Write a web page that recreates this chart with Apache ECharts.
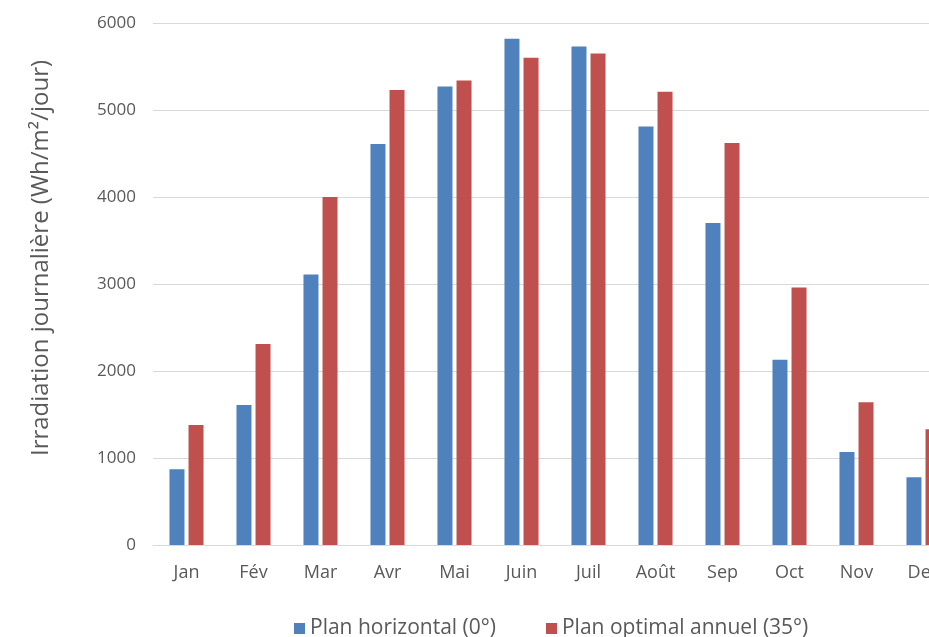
<!DOCTYPE html>
<html>
<head>
<meta charset="utf-8">
<script src="https://cdn.jsdelivr.net/npm/echarts@6/dist/echarts.min.js"></script>
<style>
  html, body { margin: 0; padding: 0; background: #fff; overflow: hidden; }
  #chart { width: 980px; height: 637px; }
</style>
</head>
<body>
<div id="chart"></div>
<script>
// Monthly daily irradiation (Wh/m²/day) for two panel orientations
const months = ['Jan', 'Fév', 'Mar', 'Avr', 'Mai', 'Juin', 'Juil', 'Août', 'Sep', 'Oct', 'Nov', 'Dec'];
const horizontal = [870, 1610, 3110, 4610, 5270, 5820, 5730, 4810, 3700, 2130, 1070, 780];
const optimal = [1380, 2310, 4000, 5230, 5340, 5600, 5650, 5210, 4620, 2960, 1640, 1330];
const seriesNames = ['Plan horizontal (0°)', 'Plan optimal annuel (35°)'];
const yTicks = { min: 0, max: 6000, interval: 1000 };

const font = '"Open Sans", "Noto Sans", sans-serif';
const grey = '#595959';
const chart = echarts.init(document.getElementById('chart'), null, { renderer: 'canvas' });

chart.setOption({
  animation: false,
  textStyle: { fontFamily: font },
  grid: { left: 153, right: 23, top: 23, bottom: 92 },
  legend: {
    left: 289, top: 613,
    itemWidth: 11, itemHeight: 11, itemGap: 50,
    icon: 'rect',
    textStyle: { fontSize: 21, color: grey, fontFamily: font },
    data: seriesNames
  },
  xAxis: {
    type: 'category',
    data: months,
    axisLine: { lineStyle: { color: '#d9d9d9', width: 1 } },
    axisTick: { show: false },
    axisLabel: { color: grey, fontSize: 18, margin: 19, fontFamily: font }
  },
  yAxis: {
    type: 'value',
    min: yTicks.min, max: yTicks.max, interval: yTicks.interval,
    name: 'Irradiation journalière (Wh/m²/jour)',
    nameLocation: 'middle',
    nameGap: 100,
    nameTextStyle: { fontSize: 24, color: grey, fontFamily: font, padding: [0, 0, 0, 52] },
    axisLine: { show: false },
    axisTick: { show: false },
    axisLabel: {
      color: grey, fontSize: 17, margin: 17, fontFamily: font,
      formatter: (v) => String(v)
    },
    splitLine: { lineStyle: { color: '#d9d9d9', width: 1 } }
  },
  series: [
    {
      name: seriesNames[0], type: 'bar', data: horizontal,
      barWidth: 15, barGap: '27%',
      itemStyle: { color: '#4f81bd' }
    },
    {
      name: seriesNames[1], type: 'bar', data: optimal,
      barWidth: 15, barGap: '27%',
      itemStyle: { color: '#c0504d' }
    }
  ]
});
</script>
</body>
</html>
